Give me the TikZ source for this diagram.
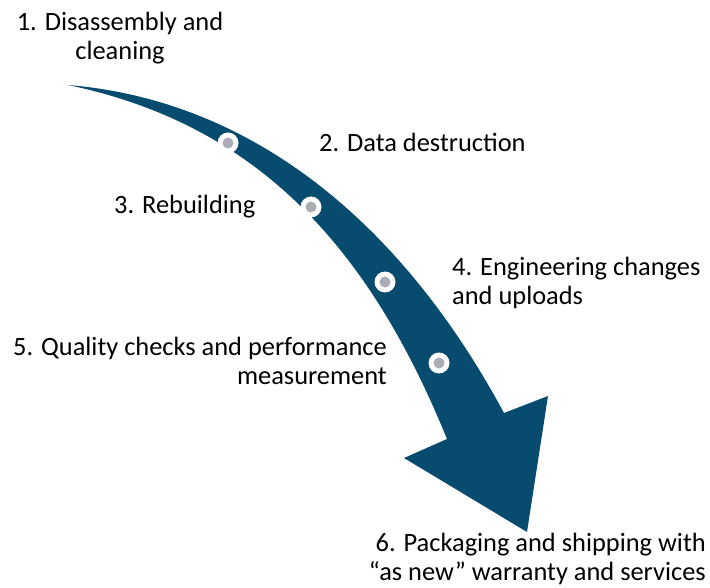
\documentclass[tikz,border=0pt]{standalone}
\usepackage{fontspec}
\setmainfont{Carlito}
\definecolor{bandblue}{RGB}{7,75,111}
\definecolor{dotgray}{RGB}{170,172,182}
\begin{document}
\begin{tikzpicture}[x=1pt,y=-1pt,
  lbl/.style={inner sep=0pt,font=\fontsize{26.4}{29}\selectfont,text=black},
  stepdot/.style={circle,fill=white,minimum size=21pt,inner sep=0pt,path picture={\fill[dotgray] (path picture bounding box.center) circle (5.5pt);}}]
\useasboundingbox (0,0) rectangle (710,588);
% arrow body
\fill[bandblue] (68,85) .. controls (250,100) and (400,220) .. (504,413)
  -- (548,396) -- (527,532) -- (404,458) -- (447,439)
  .. controls (370,250) and (260,125) .. (68,85) -- cycle;
% dots
\node[stepdot] (d1) at (228,143) {};
\node[stepdot] (d2) at (311,207) {};
\node[stepdot] (d3) at (385,282) {};
\node[stepdot] (d4) at (439,363) {};
% labels
\node[lbl,align=center,anchor=north] (t1) at (120,12.4) {1. Disassembly and\\cleaning};
\node[lbl,anchor=base west] (t2) at (319,152) {2. Data destruction};
\node[lbl,anchor=base west] (t3) at (114,214) {3. Rebuilding};
\node[lbl,align=left,anchor=north west] (t4) at (452,257.4) {4. Engineering changes\\and uploads};
\node[lbl,align=right,anchor=north east] (t5) at (387,337.4) {5. Quality checks and performance\\measurement};
\node[lbl,align=right,anchor=north east] (t6) at (706,533.4) {6. Packaging and shipping with\\“as new” warranty and services};
\end{tikzpicture}
\end{document}
